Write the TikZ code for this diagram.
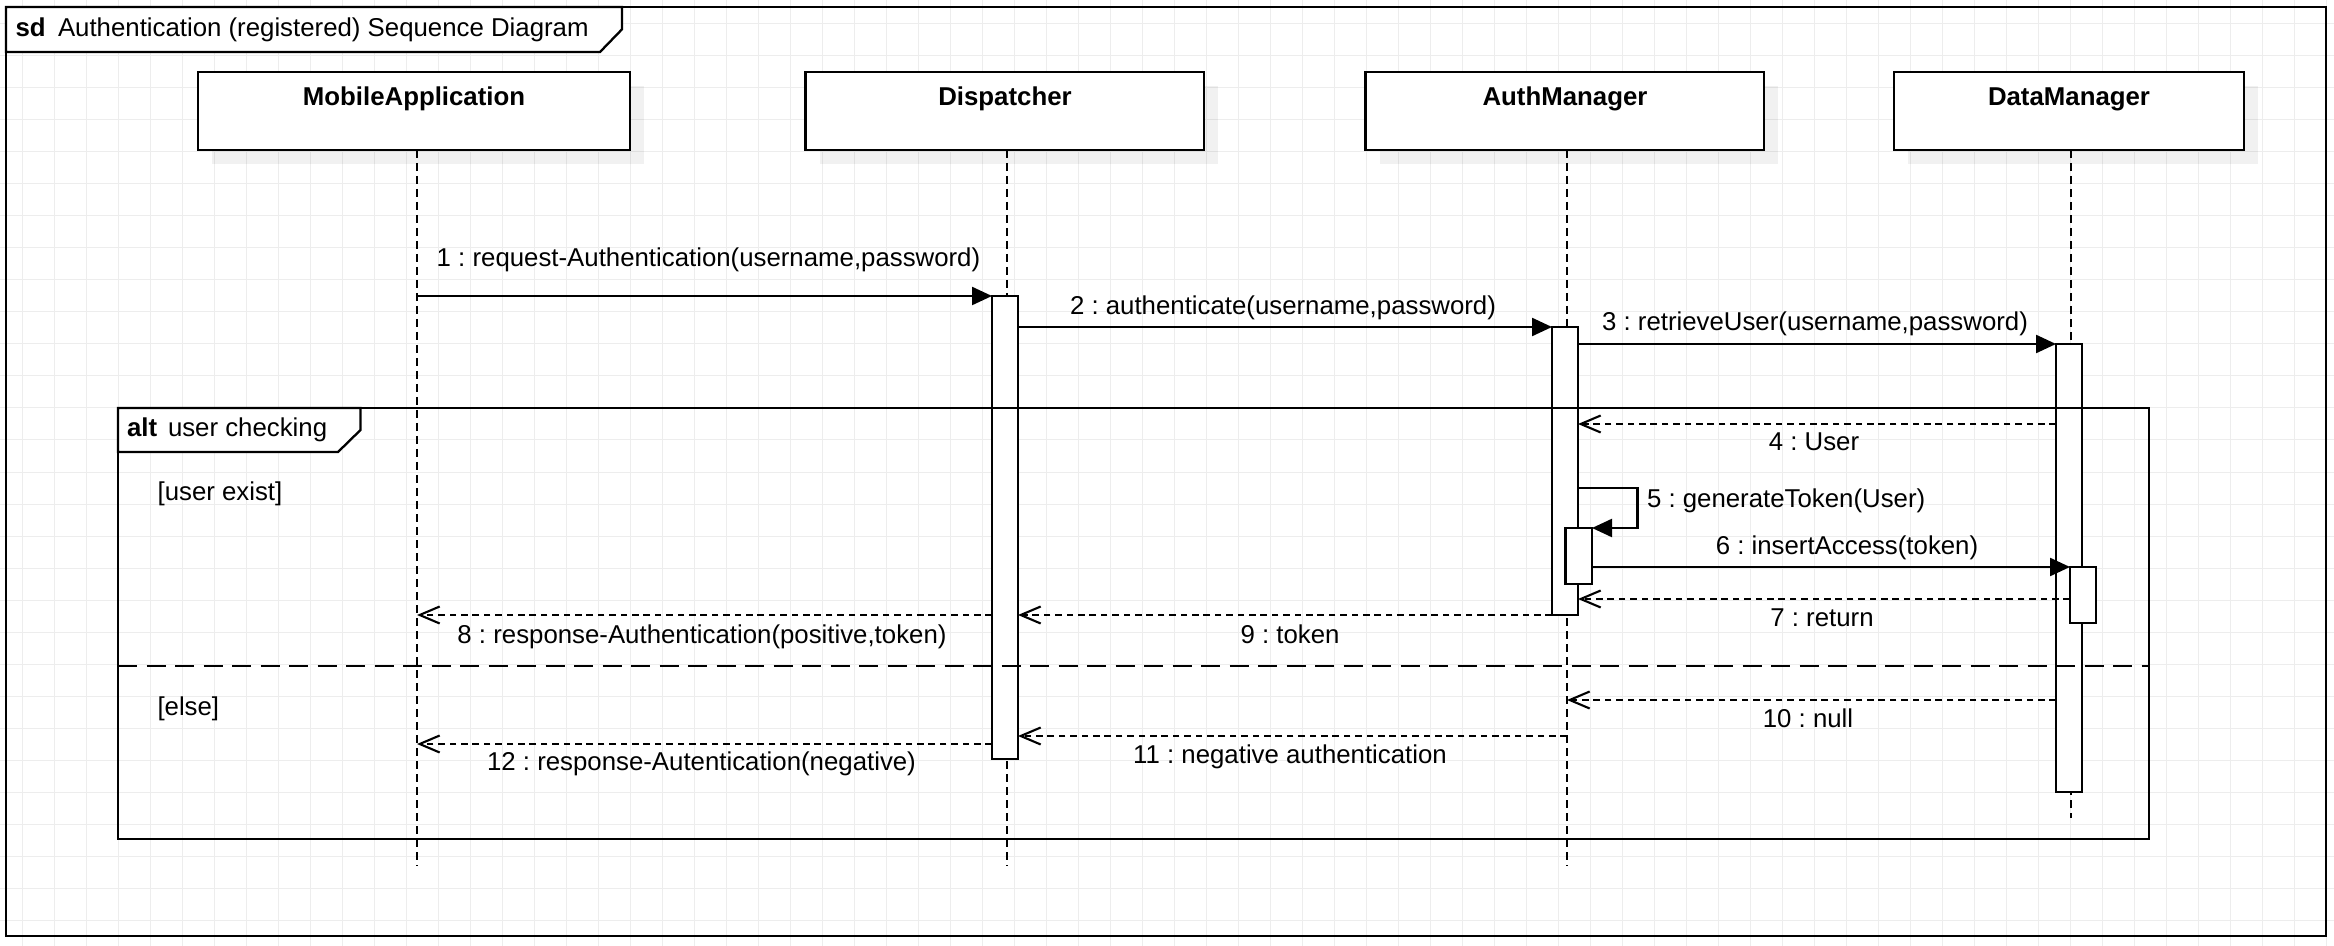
\documentclass[tikz,border=0pt]{standalone}
\usepackage{fontspec}
\setmainfont{Liberation Sans}
\usetikzlibrary{arrows.meta,fit}
\begin{document}
\frenchspacing
\begin{tikzpicture}[x=0.5pt,y=-0.5pt,
  every node/.style={inner sep=0pt,outer sep=0pt},
  txt/.style={font=\fontsize{12.9}{15}\selectfont},
  btxt/.style={font=\fontsize{12.9}{15}\selectfont\bfseries},
  gridline/.style={draw=gray!14,line width=0.5pt},
  hdrbox/.style={draw=black,fill=white,line width=1.15pt,inner sep=0pt},
  shadowbox/.style={fill=black,fill opacity=0.055,draw=none,inner sep=0pt},
  lifeline/.style={draw=black,line width=1pt,dash pattern=on 4pt off 2.5pt},
  actbox/.style={draw=black,fill=white,line width=1.15pt,inner sep=0pt},
  framebox/.style={draw=black,line width=1.15pt},
  tabbox/.style={draw=black,fill=white,line width=1.15pt},
  sepline/.style={draw=black,line width=1.2pt,dash pattern=on 9.5pt off 4.75pt},
  sync/.style={draw=black,line width=1.15pt,-{Triangle[length=10pt,width=9pt]}},
  reply/.style={draw=black,line width=1.05pt,dash pattern=on 3.3pt off 2.4pt,-{Straight Barb[length=10pt,width=8.5pt]}}
]
\useasboundingbox (0,0) rectangle (2334,946);
\fill[white] (0,0) rectangle (2334,946);
% background grid
\foreach \gx in {22,54,...,2326} {\draw[gridline] (\gx,0) -- (\gx,946);}
\foreach \gy in {24,56,...,920} {\draw[gridline] (0,\gy) -- (2334,\gy);}

% lifeline x positions
\coordinate (xMA) at (417,0);
\coordinate (xDI) at (1007,0);
\coordinate (xAM) at (1567,0);
\coordinate (xDM) at (2071,0);

% header shadows
\node[shadowbox,fit={(212,86) (644,164)}] (sMA) {};
\node[shadowbox,fit={(819.5,86) (1218,164)}] (sDI) {};
\node[shadowbox,fit={(1379.5,86) (1778,164)}] (sAM) {};
\node[shadowbox,fit={(1908,86) (2258,164)}] (sDM) {};

% header boxes
\node[hdrbox,fit={(198,72) (630,150)}] (hMA) {};
\node[hdrbox,fit={(805.5,72) (1204,150)}] (hDI) {};
\node[hdrbox,fit={(1365.5,72) (1764,150)}] (hAM) {};
\node[hdrbox,fit={(1894,72) (2244,150)}] (hDM) {};
\node[btxt,anchor=base] (tMA) at (414,105.5) {MobileApplication};
\node[btxt,anchor=base] (tDI) at (1005,105.5) {Dispatcher};
\node[btxt,anchor=base] (tAM) at (1565,105.5) {AuthManager};
\node[btxt,anchor=base] (tDM) at (2069,105.5) {DataManager};

% lifelines
\coordinate (endMA) at (417,866);
\coordinate (endDI) at (1007,866);
\coordinate (endAM) at (1567,866);
\coordinate (endDM) at (2071,818);
\draw[lifeline] (xMA |- hMA.south) -- (endMA);
\draw[lifeline] (xDI |- hDI.south) -- (endDI);
\draw[lifeline] (xAM |- hAM.south) -- (endAM);
\draw[lifeline] (xDM |- hDM.south) -- (endDM);

% outer frame
\draw[framebox] (6,7) rectangle (2326,936);
\draw[tabbox] (6,7) -- (622,7) -- (622,29.3) -- (600,52) -- (6,52) -- cycle;
\node[btxt,anchor=base west] (sdk) at (15.6,37) {sd};
\node[txt,anchor=base west] (sdt) at (58,37) {Authentication (registered) Sequence Diagram};

% activations
\node[actbox,fit={(992,296) (1018,759)}] (a1) {};
\node[actbox,fit={(1552,327) (1578,615)}] (a2) {};
\node[actbox,fit={(1565.5,528) (1592,584)}] (a3) {};
\node[actbox,fit={(2056,344) (2082,792)}] (a4) {};
\node[actbox,fit={(2070,567) (2096,623)}] (a5) {};

% alt frame
\draw[framebox] (118,408) rectangle (2149,839);
\draw[tabbox] (118,408) -- (360.5,408) -- (360.5,430) -- (338,452) -- (118,452) -- cycle;
\node[btxt,anchor=base west] (altk) at (127,437) {alt};
\node[txt,anchor=base west] (altt) at (168,437) {user checking};
\coordinate (sepL) at (118,666);
\coordinate (sepR) at (2149,666);
\draw[sepline] (sepL) -- (sepR);
\node[txt,anchor=base west] (g1) at (157.6,501) {[user exist]};
\node[txt,anchor=base west] (g2) at (157.5,715) {[else]};

% message levels
\coordinate (y4) at (0,424);
\coordinate (m5r) at (1637.6,488);
\coordinate (y7) at (0,599);
\coordinate (y8) at (0,615);
\coordinate (y10) at (0,700);
\coordinate (y11) at (0,736);
\coordinate (y12) at (0,744);

% messages
\draw[sync] (xMA |- a1.north) -- (a1.north west);
\draw[sync] (a1.east |- a2.north) -- (a2.north west);
\draw[sync] (a2.east |- a4.north) -- (a4.north west);
\draw[reply] (a4.west |- y4) -- (a2.east |- y4);
\draw[sync] (a2.east |- m5r) -- (m5r) -- (m5r |- a3.north) -- (a3.north east);
\draw[sync] (a3.east |- a5.north) -- (a5.north west);
\draw[reply] (a5.west |- y7) -- (a2.east |- y7);
\draw[reply] (a1.west |- y8) -- (xMA |- y8);
\draw[reply] (a2.south west) -- (a1.east |- a2.south);
\draw[reply] (a4.west |- y10) -- (xAM |- y10);
\draw[reply] (xAM |- y11) -- (a1.east |- y11);
\draw[reply] (a1.west |- y12) -- (xMA |- y12);

% message labels
\node[txt,anchor=base] (l1) at (708.5,267) {1 : request-Authentication(username,password)};
\node[txt,anchor=base] (l2) at (1283,315) {2 : authenticate(username,password)};
\node[txt,anchor=base] (l3) at (1815,331) {3 : retrieveUser(username,password)};
\node[txt,anchor=base] (l4) at (1814,451) {4 : User};
\node[txt,anchor=base west] (l5) at (1647,507) {5 : generateToken(User)};
\node[txt,anchor=base] (l6) at (1847,554) {6 : insertAccess(token)};
\node[txt,anchor=base] (l7) at (1822,626) {7 : return};
\node[txt,anchor=base] (l8) at (702,643) {8 : response-Authentication(positive,token)};
\node[txt,anchor=base] (l9) at (1290,643) {9 : token};
\node[txt,anchor=base] (l10) at (1808,727) {10 : null};
\node[txt,anchor=base] (l11) at (1290,763) {11 : negative authentication};
\node[txt,anchor=base] (l12) at (701.5,770) {12 : response-Autentication(negative)};
\end{tikzpicture}
\end{document}
